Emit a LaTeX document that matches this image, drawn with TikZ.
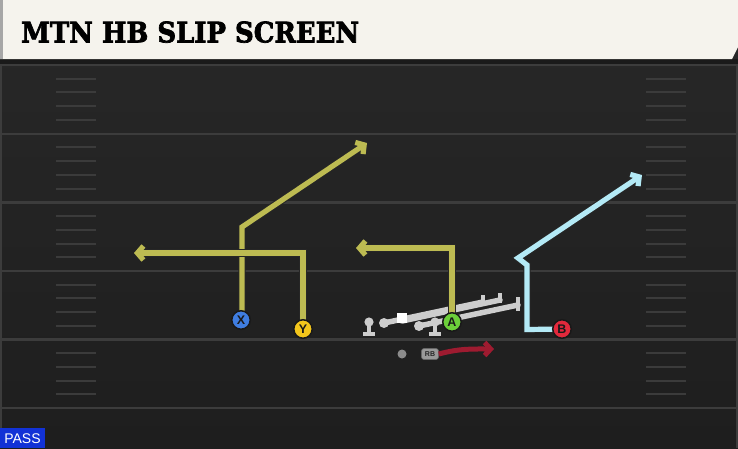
\documentclass[tikz,border=0pt]{standalone}
\usepackage{fontspec}
\setmainfont{Liberation Sans}
\newfontfamily\titlefont{DejaVu Serif}[UprightFont={* Bold}, FakeBold=2.5]
\usetikzlibrary{arrows.meta}
\definecolor{bgtop}{HTML}{282828}
\definecolor{bgbot}{HTML}{1E1E1E}
\definecolor{fieldline}{HTML}{3C3C3C}
\definecolor{hashc}{HTML}{3B3B3B}
\definecolor{cream}{HTML}{F5F3ED}
\definecolor{shadowc}{HTML}{1A1A1A}
\definecolor{olive}{HTML}{BDBB52}
\definecolor{skyc}{HTML}{B4EAF6}
\definecolor{rbred}{HTML}{9E1B30}
\definecolor{xblue}{HTML}{3F7DE0}
\definecolor{yyellow}{HTML}{F3C61C}
\definecolor{agreen}{HTML}{6CCF3A}
\definecolor{bred}{HTML}{E2293C}
\definecolor{linegray}{HTML}{CDCDCD}
\definecolor{passblue}{HTML}{1232D6}
\tikzset{
  yardline/.style={draw=fieldline, line width=2.2pt},
  hashmark/.style={draw=hashc, line width=2pt},
  player/.style={circle, draw=black!90, line width=1.5pt, minimum size=18.5pt, inner sep=0pt,
                 font=\bfseries\fontsize{12.5}{12.5}\selectfont, text=black!90},
  route/.style={line width=5.2pt, draw=#1, line join=miter,
                -{Straight Barb[length=6pt,width=14pt]},
                preaction={draw=black!85, line width=7.4pt}},
  blockline/.style={draw=linegray, line width=5.5pt, line cap=round},
  lmstem/.style={draw=linegray, line width=4.2pt},
}
\begin{document}
\begin{tikzpicture}[x=1pt,y=-1pt]
\useasboundingbox (0,0) rectangle (738,448);
% background
\shade[top color=bgtop, bottom color=bgbot] (0,0) rectangle (738,448);
% side lines
\draw[draw=fieldline, line width=2.2pt] (1,59) -- (1,448);
\draw[draw=fieldline, line width=2.2pt] (737,59) -- (737,448);
% yard lines
\foreach \yy in {65,133.7,202.4,271,339.5,408}
  \draw[yardline] (2,\yy) -- (736,\yy);
% hash marks
\foreach \base in {65,133.7,202.4,271,339.5}
  \foreach \k in {1,2,3,4} {
    \draw[hashmark] (56,\base+\k*13.7) -- (96,\base+\k*13.7);
    \draw[hashmark] (646,\base+\k*13.7) -- (686,\base+\k*13.7);
  }
% header
\fill[shadowc] (0,59) rectangle (738,64);
\fill[cream] (0,0) -- (738,0) -- (738,47) -- (732,59) -- (0,59) -- cycle;
\fill[black!35] (0,0) rectangle (2.5,59);
\node[anchor=south west, inner sep=0pt] (title) at (21,43)
  {\resizebox{338pt}{21pt}{\titlefont MTN HB SLIP SCREEN}};
% PASS tag
\fill[passblue] (0,428) rectangle (45,448);
\node[anchor=center, inner sep=0pt, text=white, font=\fontsize{14}{14}\selectfont] (pass) at (22.5,438.5) {PASS};

% offensive line / blocking
\coordinate (b1s) at (384,323);
\coordinate (b1e) at (483,302);
\coordinate (b2s) at (402,321);
\coordinate (b2e) at (500,300);
\coordinate (b3s) at (419,326);
\coordinate (b3e) at (518,305);
\draw[blockline] (b1s) -- (b1e);
\draw[blockline] (b2s) -- (b2e);
\draw[blockline] (b3s) -- (b3e);
\draw[lmstem] (483,295) -- (483,305);
\draw[lmstem] (500,293) -- (500,303);
\draw[lmstem] (518,297) -- (518,311);
\fill[linegray] (b1s) circle (5);
\fill[linegray] (b3s) circle (5);
\fill[white] (397,313) rectangle (407,323);
% pass-block linemen (T shapes)
\foreach \lx in {369,435} {
  \fill[linegray] (\lx,322) circle (4.6);
  \draw[lmstem] (\lx,322) -- (\lx,333);
  \draw[lmstem] (\lx-6,334) -- (\lx+6,334);
}

% QB and RB
\node[circle, fill=black!45, minimum size=9pt, inner sep=0pt] (QB) at (402,354) {};
\node[rounded corners=2.5pt, fill=black!40, draw=black!60, line width=0.6pt, minimum width=17pt, minimum height=11pt,
      inner sep=0pt, font=\bfseries\fontsize{7}{7}\selectfont, text=black!85] (RB) at (430,354) {RB};

% route waypoints
\coordinate (xc) at (242,227);
\coordinate (xt) at (367,143);
\coordinate (yc) at (303,253);
\coordinate (yt) at (134,253);
\coordinate (ac) at (452,248);
\coordinate (at2) at (356,248);
\coordinate (bc1) at (527,329.5);
\coordinate (bc2) at (527,265);
\coordinate (bc3) at (518,258);
\coordinate (bt) at (642,175);
\coordinate (rbt) at (494,349);

\path (241,320) coordinate (Xp) (303,329) coordinate (Yp) (452,322) coordinate (Ap) (562,329) coordinate (Bp);

% routes
\draw[route=olive] (Xp -| xc) -- (xc) -- (xt);
\draw[route=olive] (Yp) -- (yc) -- (yt);
\draw[route=olive] (Ap) -- (ac) -- (at2);
\draw[route=skyc] (Bp) -- (bc1) -- (bc2) -- (bc3) -- (bt);
\draw[draw=rbred, line width=5pt, -{Straight Barb[length=6pt,width=13pt]}] (RB.east) to[out=15, in=180] (rbt);

% player circles on top
\node[player, fill=xblue] (X) at (Xp) {X};
\node[player, fill=yyellow] (Y) at (Yp) {Y};
\node[player, fill=agreen] (A) at (Ap) {A};
\node[player, fill=bred] (B) at (Bp) {B};
\end{tikzpicture}
\end{document}
